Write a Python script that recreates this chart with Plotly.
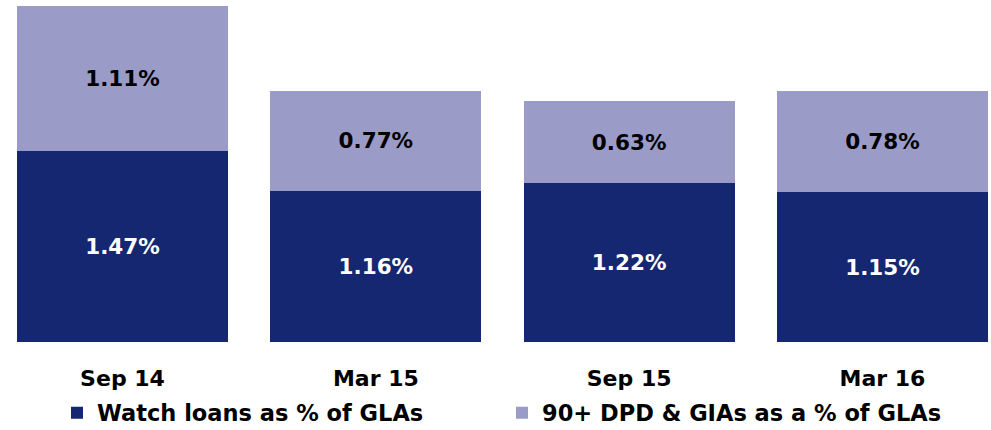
import plotly.graph_objects as go

categories = ["Sep 14", "Mar 15", "Sep 15", "Mar 16"]
watch_loans = [1.47, 1.16, 1.22, 1.15]
dpd_gias = [1.11, 0.77, 0.63, 0.78]
series_names = ["Watch loans as % of GLAs", "90+ DPD & GIAs as a % of GLAs"]

DARK = "#162772"
LIGHT = "#9b9bc8"
FONT = "DejaVu Sans"

fig = go.Figure()
fig.add_trace(go.Bar(
    x=categories, y=watch_loans, name=series_names[0],
    marker=dict(color=DARK, line=dict(width=0)),
    text=[f"{v:.2f}%" for v in watch_loans], textposition="inside",
    insidetextanchor="middle",
    textfont=dict(family=FONT, size=21.5, color="white", weight="bold"),
))
fig.add_trace(go.Bar(
    x=categories, y=dpd_gias, name=series_names[1],
    marker=dict(color=LIGHT, line=dict(width=0)),
    text=[f"{v:.2f}%" for v in dpd_gias], textposition="inside",
    insidetextanchor="middle",
    textfont=dict(family=FONT, size=21.5, color="black", weight="bold"),
))

fig.update_layout(
    barmode="stack",
    bargap=0.167,
    width=991, height=430,
    margin=dict(l=0, r=0, t=0, b=88, autoexpand=False),
    paper_bgcolor="white", plot_bgcolor="white",
    font=dict(family=FONT, color="black"),
    uniformtext=dict(mode="show", minsize=10),
    showlegend=True,
    legend=dict(
        orientation="h", x=57 / 991, xanchor="left",
        y=-(413 - 342) / 342, yanchor="middle",
        entrywidth=400, entrywidthmode="pixels",
        font=dict(family=FONT, size=22.5, color="black", weight="bold"),
        traceorder="normal", bgcolor="rgba(0,0,0,0)",
    ),
    xaxis=dict(
        range=[-0.4836, 3.4283], showgrid=False, zeroline=False,
        showline=False, ticks="", ticklabelstandoff=21,
        tickfont=dict(family=FONT, size=22, color="black", weight="bold"),
    ),
    yaxis=dict(range=[0, 2.627], visible=False, showgrid=False, zeroline=False),
)

fig.write_html(
    "out.html",
    config={"displayModeBar": False},
    post_script="document.body.style.margin='0';document.body.style.overflow='hidden';",
)
